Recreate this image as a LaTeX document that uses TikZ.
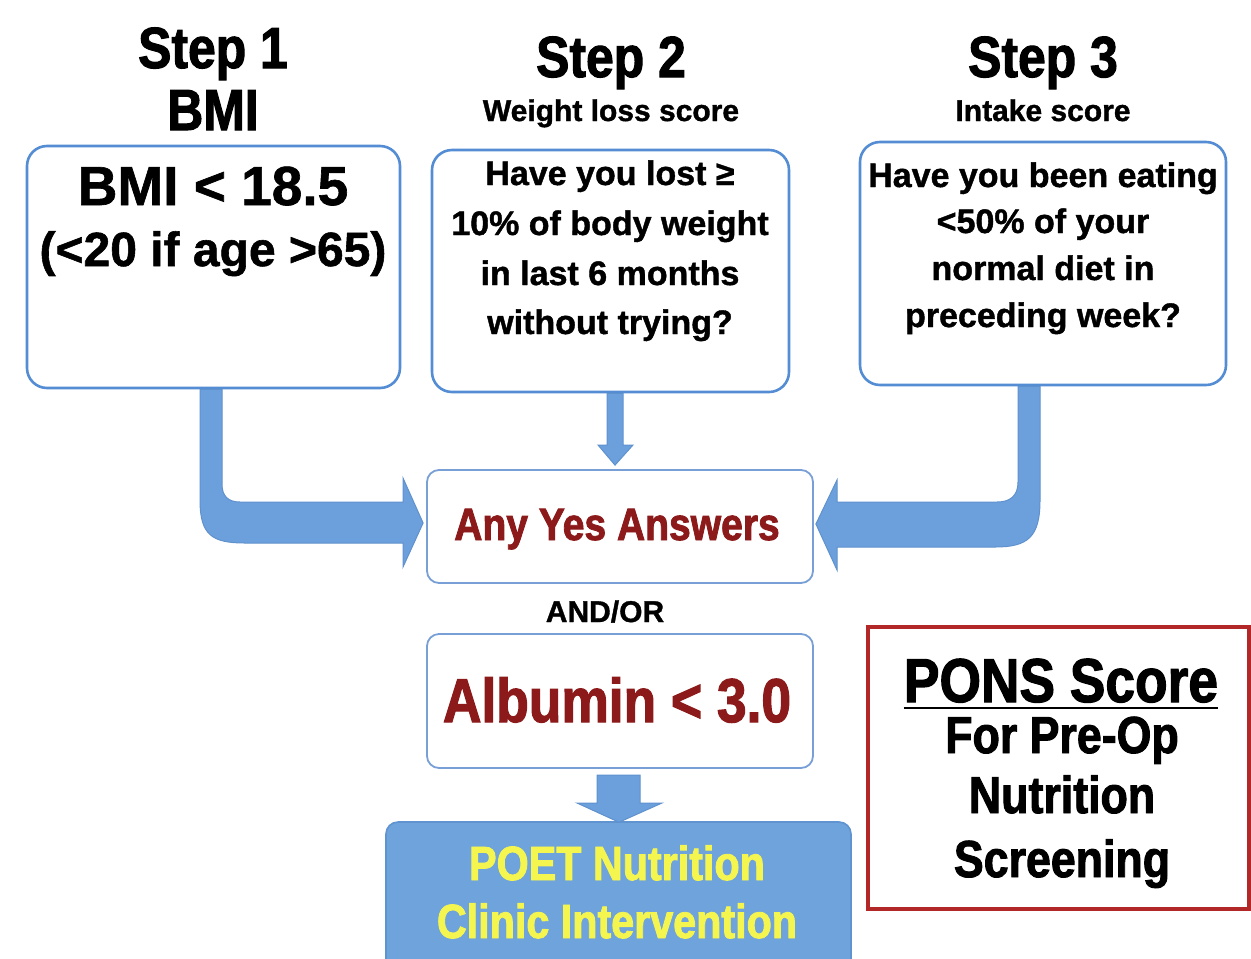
\documentclass[tikz,border=0pt]{standalone}
\usepackage{fontspec}
\setmainfont{Liberation Sans}[BoldFeatures={FakeBold=1.2}]
\newfontfamily\cond[FakeStretch=0.86, BoldFeatures={FakeBold=1.8}]{Liberation Sans}
\usetikzlibrary{calc}
\definecolor{boxblue}{RGB}{84,141,212}
\definecolor{lightblue}{RGB}{120,160,215}
\definecolor{arrowblue}{RGB}{108,160,220}
\definecolor{arrowedge}{RGB}{95,145,205}
\definecolor{poetfill}{RGB}{111,163,219}
\definecolor{poetedge}{RGB}{95,148,208}
\definecolor{ytext}{RGB}{245,245,80}
\definecolor{dred}{RGB}{140,26,26}
\definecolor{ponsred}{RGB}{178,40,40}
\newcommand{\fsz}[1]{\fontsize{#1}{#1}\selectfont}
\begin{document}
\begin{tikzpicture}[x=0.5pt,y=-0.5pt,
  qbox/.style={draw=boxblue, line width=1.3pt, rounded corners=10pt, fill=white, inner sep=0pt},
  mbox/.style={draw=lightblue, line width=0.9pt, rounded corners=6pt, fill=white, inner sep=0pt},
  poetbox/.style={draw=poetedge, line width=0.8pt, rounded corners=6pt, fill=poetfill, inner sep=0pt},
  ponsbox/.style={draw=ponsred, line width=1.6pt, fill=white, inner sep=0pt},
  txt/.style={anchor=base, inner sep=0pt},
  title/.style={txt, font=\fsz{29pt}\cond\bfseries},
  subtitle/.style={txt, font=\fsz{15pt}\bfseries},
  qtext/.style={txt, font=\fsz{17pt}\bfseries},
  barrow/.style={fill=arrowblue, draw=arrowedge, line width=0.5pt}
]
\clip (0,0) rectangle (1251,958);
\fill[white] (0,0) rectangle (1251,958);

% boxes
\node[qbox, minimum width=186.5pt, minimum height=121pt] (box1) at (213.5,267) {};
\node[qbox, minimum width=178.5pt, minimum height=121pt] (box2) at (610.5,271) {};
\node[qbox, minimum width=183pt, minimum height=121.5pt] (box3) at (1043,263.5) {};
\node[mbox, minimum width=193pt, minimum height=56.5pt] (yes) at (620,526.5) {};
\node[mbox, minimum width=193pt, minimum height=67pt] (alb) at (620,701) {};
\node[poetbox, minimum width=232.5pt, minimum height=79pt] (poet) at (618.5,901) {};
\node[ponsbox, minimum width=190.5pt, minimum height=141pt] (pons) at (1058.5,768) {};

% titles
\node[title] (s1) at (213,68) {Step 1};
\node[title] (s1b) at (213,130) {BMI};
\node[title] (s2) at (611,77) {Step 2};
\node[subtitle] (s2b) at (611,121) {Weight loss score};
\node[title] (s3) at (1043,77) {Step 3};
\node[subtitle] (s3b) at (1043,121) {Intake score};

% box 1 text
\node[txt, font=\fsz{27.5pt}\bfseries] (b1a) at (213,205) {BMI < 18.5};
\node[txt, font=\fsz{24pt}\bfseries] (b1b) at (213,266) {(<20 if age >65)};

% box 2 text
\node[qtext] (b2a) at (610,185) {Have you lost ≥};
\node[qtext] (b2b) at (610,235) {10\% of body weight};
\node[qtext] (b2c) at (610,285) {in last 6 months};
\node[qtext] (b2d) at (610,334) {without trying?};

% box 3 text
\node[qtext] (b3a) at (1043,187) {Have you been eating};
\node[qtext] (b3b) at (1043,233) {<50\% of your};
\node[qtext] (b3c) at (1043,280) {normal diet in};
\node[qtext] (b3d) at (1043,327) {preceding week?};

% middle texts
\node[txt, font=\fsz{22.7pt}\cond\bfseries, text=dred] (yest) at (617,540) {Any Yes Answers};
\node[txt, font=\fsz{15pt}\bfseries] (andor) at (605,622) {AND/OR};
\node[txt, font=\fsz{31pt}\cond\bfseries, text=dred] (albt) at (617,722) {Albumin < 3.0};
\node[txt, font=\fsz{24pt}\cond\bfseries, text=ytext] (poet1) at (617,880) {POET Nutrition};
\node[txt, font=\fsz{24pt}\cond\bfseries, text=ytext] (poet2) at (617,938) {Clinic Intervention};

% PONS texts
\node[txt, font=\fsz{31pt}\cond\bfseries] (ps1) at (1061,702) {PONS Score};
\draw[line width=1.4pt] ($(ps1.base west)+(0,6)$) -- ($(ps1.base east)+(0,6)$);
\node[txt, font=\fsz{26pt}\cond\bfseries] (ps2) at (1062,753) {For Pre-Op};
\node[txt, font=\fsz{26pt}\cond\bfseries] (ps3) at (1062,813) {Nutrition};
\node[txt, font=\fsz{26pt}\cond\bfseries] (ps4) at (1062,877) {Screening};

% arrows
\draw[barrow] (200,0 |- box1.south) -- (200,500) .. controls (200,535) and (212,543) .. (245,543)
  -- (403,543) -- (403,567) -- ($(yes.west)+(-3,-3.5)$) -- (403,478) -- (403,502) -- (240,502)
  .. controls (228,502) and (222,496) .. (222,484) -- (222,0 |- box1.south) -- cycle;
\draw[barrow] (1040,0 |- box3.south) -- (1040,500) .. controls (1040,537) and (1028,547) .. (995,547)
  -- (837,547) -- (837,570) -- ($(yes.east)+(2,-2.5)$) -- (837,480) -- (837,502) -- (997,502)
  .. controls (1010,502) and (1018,496) .. (1018,482) -- (1018,0 |- box3.south) -- cycle;
\draw[barrow] (607,0 |- box2.south) -- (607,445) -- (598,445) -- ($(yes.north)+(-5,-4)$)
  -- (633,445) -- (623,445) -- (623,0 |- box2.south) -- cycle;
\draw[barrow] (597,775) -- (597,803) -- (577,803) -- ($(poet.north)+(0.5,1)$)
  -- (662,803) -- (640,803) -- (640,775) -- cycle;
\end{tikzpicture}
\end{document}
